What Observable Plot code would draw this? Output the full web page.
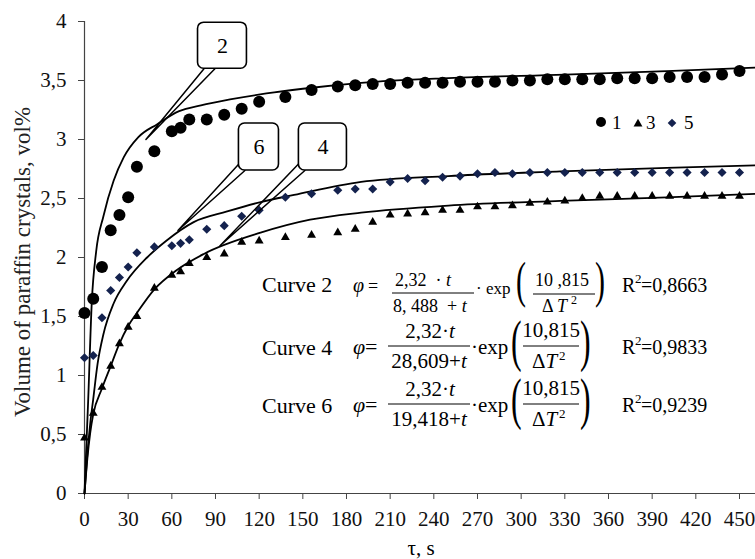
<!DOCTYPE html>
<html>
<head>
<meta charset="utf-8">
<script src="https://cdn.jsdelivr.net/npm/d3@7"></script>
<script src="https://cdn.jsdelivr.net/npm/@observablehq/plot@0.6"></script>
<style>
  html, body { margin: 0; padding: 0; background: #fff; }
  #chart { width: 755px; height: 559px; }
</style>
</head>
<body>
<div id="chart"></div>
<script>
// ---- data ----
const times = [0,6,12,18,24,30,36,48,60,66,72,84,96,108,120,138,156,174,186,198,
  210,222,234,246,258,270,282,294,306,318,330,342,354,366,378,390,402,414,426,438,450];
const series1 = [1.53,1.65,1.92,2.23,2.36,2.51,2.77,2.90,3.07,3.10,3.17,3.17,3.21,3.26,3.32,3.36,3.42,3.45,3.46,3.47,
  3.47,3.48,3.48,3.48,3.49,3.49,3.49,3.50,3.50,3.51,3.51,3.51,3.51,3.52,3.52,3.52,3.53,3.53,3.53,3.55,3.58];
const series3 = [0.47,0.68,0.90,1.08,1.27,1.41,1.50,1.74,1.85,1.88,1.95,2.00,2.03,2.13,2.14,2.17,2.19,2.21,2.24,2.30,
  2.36,2.37,2.38,2.40,2.40,2.43,2.43,2.44,2.46,2.47,2.48,2.50,2.52,2.52,2.52,2.52,2.52,2.52,2.52,2.52,2.52];
const series5 = [1.15,1.17,1.49,1.72,1.83,1.92,2.04,2.09,2.10,2.12,2.15,2.24,2.27,2.35,2.40,2.51,2.54,2.57,2.58,2.58,
  2.64,2.67,2.65,2.68,2.69,2.71,2.72,2.71,2.72,2.72,2.72,2.72,2.72,2.72,2.72,2.72,2.72,2.72,2.72,2.72,2.72];

// fitted curves
const curve2T = [0,1,2.5,5,8,13,20,27,37,50,65,80,100,125,150,190,250,330,400,461];
const curve2V = [0,0.32,0.78,1.62,2.05,2.35,2.65,2.85,3.02,3.13,3.24,3.29,3.34,3.39,3.43,3.48,3.52,3.55,3.58,3.61];
const curve4T = [0,2,4,6,12,18,24,30,36,48,63,82,121,155,190,250,327,400,461];
const curve4V = [0,0.30,0.52,0.67,0.89,1.08,1.27,1.42,1.53,1.73,1.89,2.03,2.21,2.32,2.38,2.44,2.48,2.51,2.54];
const curve6T = [0,2,4,6,9,13,20,29,43,56,75,98,121,144,190,250,327,400,461];
const curve6V = [0,0.34,0.60,0.80,1.10,1.35,1.61,1.80,2.00,2.14,2.30,2.39,2.47,2.53,2.64,2.69,2.73,2.76,2.78];

const xTicks = [0,30,60,90,120,150,180,210,240,270,300,330,360,390,420,450];
const yTicks = [0,0.5,1,1.5,2,2.5,3,3.5,4];

// callouts (annotation boxes, in data units)
const calloutLabels = ["2","6","4"];
const calloutBoxT = [[78,111.6],[106.1,133.6],[147.3,180.3]];
const calloutBoxV = [[3.60,3.99],[2.737,3.136],[2.737,3.136]];
const calloutWedge = [
  [[82.1,3.60],[42.2,3.0],[89.6,3.60]],
  [[107,2.805],[64.2,2.229],[110.2,2.737]],
  [[148,2.805],[93.1,2.10],[151.4,2.737]]
];

// ---- build tables ----
const fmt = d => String(d).replace(".", ",");
const pts = (vals, s) => times.map((t, i) => ({t, v: vals[i], s}));
const crv = (T, V) => T.map((t, i) => ({t, v: V[i]}));
const wedges = calloutWedge.flatMap((w, k) => w.map(([t, v]) => ({t, v, k})));
const boxes = calloutLabels.map((lab, k) => ({
  lab, t1: calloutBoxT[k][0], t2: calloutBoxT[k][1], v1: calloutBoxV[k][0], v2: calloutBoxV[k][1]
}));

const navy = "#14224e";
const plot = Plot.plot({
  width: 755, height: 559,
  marginLeft: 84, marginRight: 0, marginTop: 21, marginBottom: 66,
  x: {domain: [0, 461]},
  y: {domain: [0, 4]},
  style: {fontFamily: "'Liberation Serif', serif", fontSize: "21px", color: "#111", background: "#fff", overflow: "visible"},
  marks: [
    Plot.axisX({ticks: xTicks, tickFormat: fmt, tickSize: 6, tickPadding: 12, label: null, stroke: "#444"}),
    Plot.axisY({ticks: yTicks, tickFormat: fmt, tickSize: 6, tickPadding: 12, label: null, stroke: "#444"}),
    Plot.ruleX([0], {stroke: "#444", strokeWidth: 1.2}),
    Plot.ruleY([0], {stroke: "#444", strokeWidth: 1.2}),
    Plot.line(crv(curve2T, curve2V), {x: "t", y: "v", curve: "monotone-x", stroke: "#000", strokeWidth: 1.8}),
    Plot.line(crv(curve4T, curve4V), {x: "t", y: "v", curve: "monotone-x", stroke: "#000", strokeWidth: 1.8}),
    Plot.line(crv(curve6T, curve6V), {x: "t", y: "v", curve: "monotone-x", stroke: "#000", strokeWidth: 1.8}),
    Plot.dot(pts(series1, "1"), {x: "t", y: "v", r: 6, symbol: "circle", fill: "#000", stroke: "none"}),
    Plot.dot(pts(series3, "3"), {x: "t", y: "v", r: 3.3, symbol: "triangle", fill: "#000", stroke: "none"}),
    Plot.dot(pts(series5, "5"), {x: "t", y: "v", r: 4.1, symbol: "diamond2", fill: navy, stroke: "none"}),
    Plot.line(wedges, {x: "t", y: "v", z: "k", stroke: "#000", strokeWidth: 1.5, curve: "linear"}),
    Plot.rect(boxes, {x1: "t1", x2: "t2", y1: "v1", y2: "v2", rx: 6, fill: "#fff", stroke: "#000", strokeWidth: 1.6}),
    Plot.text(boxes, {x: d => (d.t1 + d.t2) / 2, y: d => (d.v1 + d.v2) / 2, text: "lab", fontSize: 22, fill: "#000"})
  ]
});
document.getElementById("chart").appendChild(plot);

// ---- texts: axis titles, legend, equations ----
const svg = d3.select(plot);
const g = svg.append("g").attr("font-family", "'Liberation Serif', serif").attr("fill", "#000").attr("text-anchor", "start");
function txt(x, y, segs, size, anchor) {
  const e = g.append("text").attr("x", x).attr("y", y).attr("font-size", size)
    .attr("text-anchor", anchor || "start");
  (Array.isArray(segs) ? segs : [[segs]]).forEach(([s, it]) => {
    const ts = e.append("tspan").text(s);
    if (it) ts.attr("font-style", "italic");
  });
  return e;
}
function bar(x1, x2, y) {
  g.append("line").attr("x1", x1).attr("x2", x2).attr("y1", y).attr("y2", y)
    .attr("stroke", "#000").attr("stroke-width", 1);
}
function paren(x, y, s, size, sx) {
  g.append("text").attr("transform", `translate(${x},${y}) scale(${sx},1)`)
    .attr("text-anchor", "start").attr("font-size", size).text(s);
}

// axis titles
g.append("text").attr("transform", "translate(30,262) rotate(-90)")
  .attr("text-anchor", "middle").attr("font-size", 23).attr("fill", "#222")
  .text("Volume of paraffin crystals, vol%");
txt(421, 555, "τ, s", 21, "middle");

// legend
const legendSym = [["circle", 601, 122, 5, "#000", "1", 612], ["triangle", 638, 124, 3.3, "#000", "3", 646], ["diamond2", 672, 123, 3.9, navy, "5", 684]];
const symMap = {circle: d3.symbolCircle, triangle: d3.symbolTriangle, diamond2: d3.symbolDiamond2};
legendSym.forEach(([s, x, y, r, c, lab, tx]) => {
  g.append("path").attr("d", d3.symbol(symMap[s], Math.PI * r * r)()).attr("transform", `translate(${x},${y})`).attr("fill", c);
  txt(tx, 129, lab, 19);
});

// Curve 2 row
txt(262, 292, "Curve 2", 22);
txt(353, 292, [["φ", true]], 20);
txt(368, 292, "=", 18);
txt(395, 286, [["2,32  · "], ["t", true]], 18);
bar(392, 474, 293);
txt(393, 312, [["8, 488  + "], ["t", true]], 18);
txt(476, 294, "· exp", 17);
paren(516, 297, "(", 50, 0.6);
txt(535, 286, "10 ,815", 18);
bar(533, 595, 294);
txt(542, 312, [["Δ "], ["T", true]], 18);
txt(571, 304, "2", 12);
paren(595, 297, ")", 50, 0.6);
txt(622, 292, "R", 20); txt(635, 283, "2", 13); txt(641, 292, "=0,8663", 20);

// Curve 4 and Curve 6 rows
const rows = [["Curve 4", "28,609+", "=0,9833", 0], ["Curve 6", "19,418+", "=0,9239", 58]];
rows.forEach(([lab, den, r2, dy]) => {
  txt(262, 355 + dy, lab, 22);
  txt(353, 354 + dy, [["φ", true]], 22);
  txt(365, 354 + dy, "=", 22);
  txt(430, 338 + dy, [["2,32·"], ["t", true]], 21, "middle");
  bar(388, 470, 346 + dy);
  txt(429, 368 + dy, [[den], ["t", true]], 21, "middle");
  txt(471, 354 + dy, "·exp", 21);
  paren(511, 360 + dy, "(", 58, 0.55);
  txt(551, 337 + dy, "10,815", 21, "middle");
  bar(523, 579, 346 + dy);
  txt(532, 368 + dy, [["Δ"], ["T", true]], 21);
  txt(559, 360 + dy, "2", 13);
  paren(580, 360 + dy, ")", 58, 0.55);
  txt(622, 354 + dy, "R", 20); txt(635, 345 + dy, "2", 13); txt(641, 354 + dy, r2, 20);
});
</script>
</body>
</html>
